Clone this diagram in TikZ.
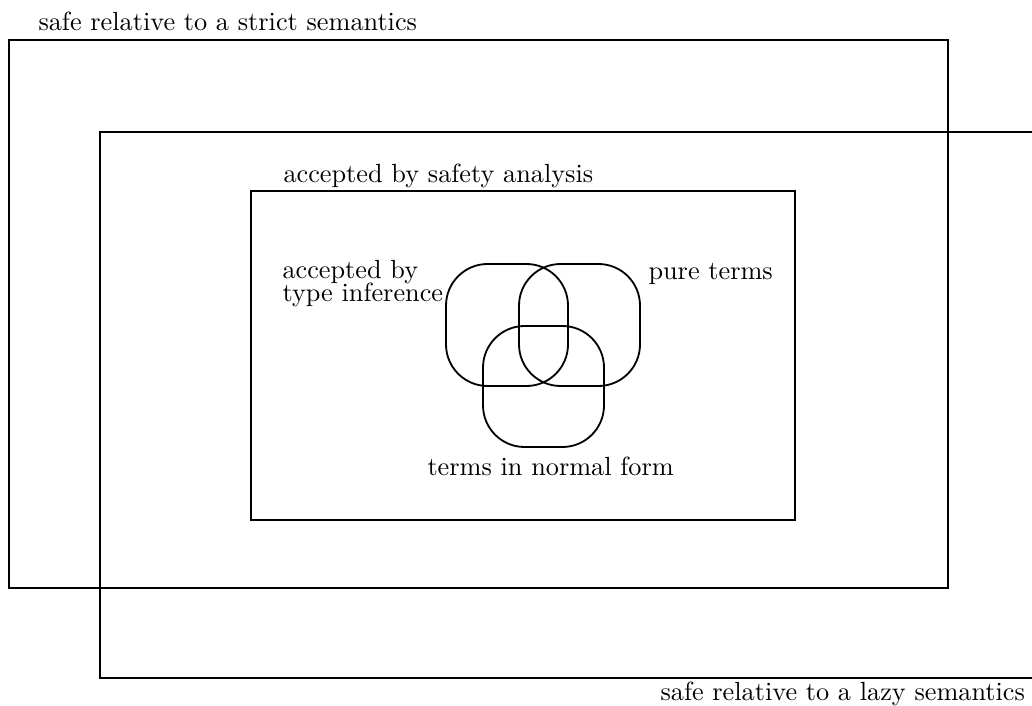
\documentclass[tikz,border=0pt]{standalone}
\newcommand{\lblfont}{\fontsize{10.1}{8.5}\selectfont\lineskiplimit=-20pt\relax}
\begin{document}
\begin{tikzpicture}[x=0.3846pt,y=-0.3846pt,
  frame/.style={draw=black,line width=0.75pt},
  blob/.style={draw=black,line width=0.7pt,rounded corners=16pt},
  lbl/.style={anchor=base west,inner sep=0pt,font=\lblfont}]
\useasboundingbox (0,0) rectangle (1032,706);
% boxes
\draw[frame] (9,40) rectangle (948,588);
\draw[frame] (1032,132) -- (100,132) -- (100,678) -- (1032,678);
\draw[frame] (251,191) rectangle (795,520);
% overlapping rounded squares
\draw[blob] (446,264) rectangle (568,386);
\draw[blob] (519,264) rectangle (640,386);
\draw[blob] (483,326) rectangle (604,447);
% labels
\node[lbl] (strict) at (38,31) {safe relative to a strict semantics};
\node[lbl] (safety) at (283,183) {accepted by safety analysis};
\node[lbl,align=left] (typeinf) at (282,301) {accepted by\\type inference};
\node[lbl] (pure) at (648,280) {pure terms};
\node[lbl] (normal) at (427,475) {terms in normal form};
\node[lbl] (lazy) at (660,700) {safe relative to a lazy semantics};
\end{tikzpicture}
\end{document}
